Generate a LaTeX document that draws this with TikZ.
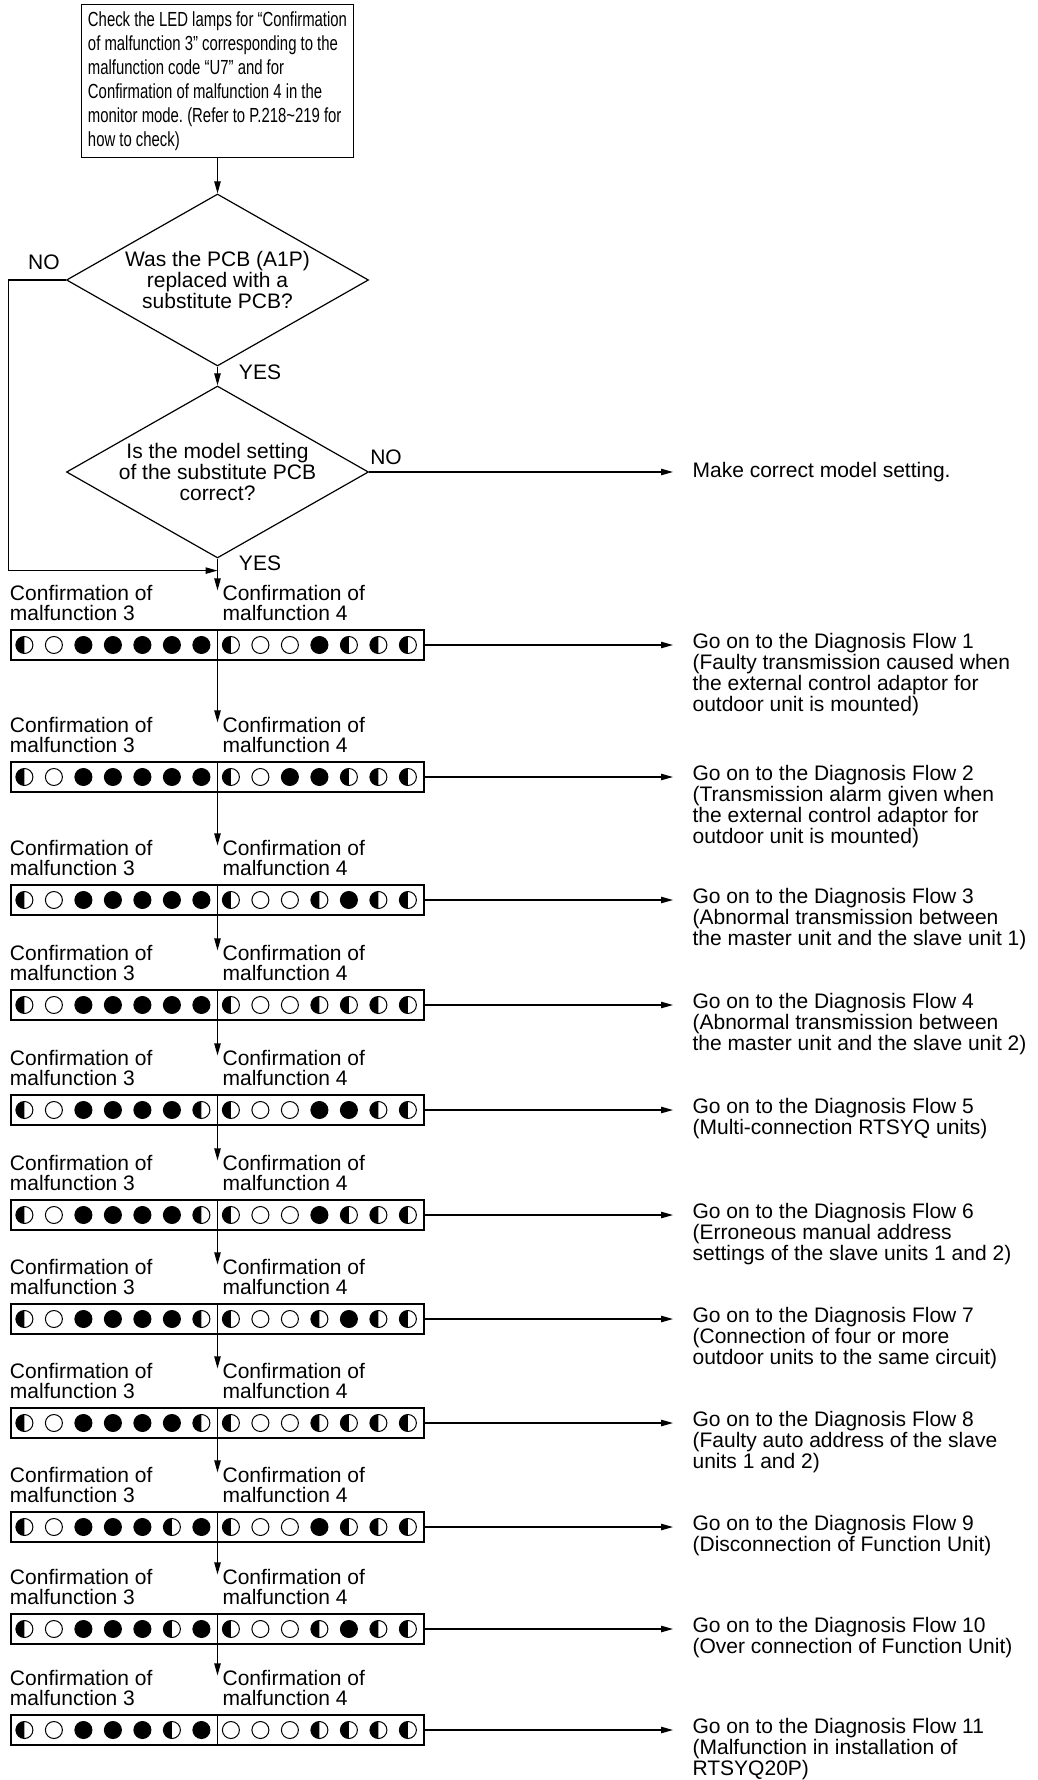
\documentclass[tikz,border=0pt]{standalone}
\usepackage{fontspec}
\setmainfont{Liberation Sans}
\newfontfamily\narrowfont[FakeStretch=0.73]{Liberation Sans}
\usetikzlibrary{arrows.meta, positioning, calc, shapes.geometric}
\frenchspacing

\begin{document}
\begin{tikzpicture}[x=0.5pt, y=0.5pt, line width=0.6pt, >={Triangle[length=6pt, width=3.2pt]},
		font=\fontsize{10.5}{10}\selectfont]
		
		% Define block styles
		\tikzstyle{checkbox} = [rectangle, draw, align=left, inner xsep=3.25pt, minimum height=74pt, font=\narrowfont\fontsize{10.2}{12}\selectfont]
		\tikzstyle{decision} = [diamond, draw, aspect=1.75, minimum width=151pt, minimum height=86pt, inner sep=0pt, align=center, font=\fontsize{10.5}{10.4}\selectfont]
		\tikzstyle{ledbar} = [rectangle, draw, minimum width=206.5pt, minimum height=15pt, inner sep=0pt]
		\tikzstyle{lamp} = [line width=0.5pt]
		\tikzstyle{conf} = [anchor=west, align=left, inner sep=0pt]
		\tikzstyle{flow} = [anchor=north west, align=left, inner sep=0pt, yshift=6.15pt, font=\fontsize{10.5}{10.5}\selectfont]
		\tikzstyle{answer} = [inner sep=0pt]
		
		\useasboundingbox (0,0) rectangle (1037,-1780);
		
		% Nodes
		\node[checkbox] (check) at (217.5,-81) {Check the LED lamps for “Confirmation\\of malfunction 3” corresponding to the\\malfunction code “U7” and for\\Confirmation of malfunction 4 in the\\monitor mode. (Refer to P.218\textasciitilde219 for\\how to check)};
		\node[decision] (pcb) at (217.5,-280) {Was the PCB (A1P)\\replaced with a\\substitute PCB?};
		\node[decision] (model) at (217.5,-472) {Is the model setting\\of the substitute PCB\\correct?};
		\node[anchor=west, inner sep=0pt] (setting) at (692,-472) {Make correct model setting.};
		\coordinate (textx) at (692,0);
		
		% LED rows: h = blinking, o = off, f = on
		\foreach \y/\pattern [count=\i] in {
			645/{h,o,f,f,f,f,f,h,o,o,f,h,h,h},
			777/{h,o,f,f,f,f,f,h,o,f,f,h,h,h},
			900/{h,o,f,f,f,f,f,h,o,o,h,f,h,h},
			1005/{h,o,f,f,f,f,f,h,o,o,h,h,h,h},
			1110/{h,o,f,f,f,f,h,h,o,o,f,f,h,h},
			1215/{h,o,f,f,f,f,h,h,o,o,f,h,h,h},
			1319/{h,o,f,f,f,f,h,h,o,o,h,f,h,h},
			1423/{h,o,f,f,f,f,h,h,o,o,h,h,h,h},
			1527/{h,o,f,f,f,h,f,h,o,o,f,h,h,h},
			1629/{h,o,f,f,f,h,f,h,o,o,h,f,h,h},
			1730/{h,o,f,f,f,h,f,o,o,o,h,h,h,h}}{
			\node[ledbar] (bar\i) at (217.5,-\y) {};
			\draw (bar\i.north) -- (bar\i.south);
			\node[conf] (mal3-\i) at ($(bar\i.west)+(-1,42)$) {Confirmation of\\malfunction 3};
			\node[conf] (mal4-\i) at ($(bar\i.center)+(4.5,42)$) {Confirmation of\\malfunction 4};
			\coordinate (in\i) at ($(bar\i.north)+(0,39)$);
			\foreach \s [count=\k from 0] in \pattern {
				\coordinate (bulb) at ($(bar\i.west)+(14+29.5*\k,0)$);
				\draw[lamp] (bulb) circle (4.25pt);
				\if\s f\fill (bulb) circle (4.25pt);\fi
				\if\s h\fill (bulb) ++(0,4.25pt) arc[start angle=90, end angle=270, radius=4.25pt] -- cycle;\fi
			}
		}
		
		% Diagnosis flows
		\node[flow] (flow1) at (bar1.east -| textx) {Go on to the Diagnosis Flow 1\\(Faulty transmission caused when\\the external control adaptor for\\outdoor unit is mounted)};
		\node[flow] (flow2) at (bar2.east -| textx) {Go on to the Diagnosis Flow 2\\(Transmission alarm given when\\the external control adaptor for\\outdoor unit is mounted)};
		\node[flow] (flow3) at (bar3.east -| textx) {Go on to the Diagnosis Flow 3\\(Abnormal transmission between\\the master unit and the slave unit 1)};
		\node[flow] (flow4) at (bar4.east -| textx) {Go on to the Diagnosis Flow 4\\(Abnormal transmission between\\the master unit and the slave unit 2)};
		\node[flow] (flow5) at (bar5.east -| textx) {Go on to the Diagnosis Flow 5\\(Multi-connection RTSYQ units)};
		\node[flow] (flow6) at (bar6.east -| textx) {Go on to the Diagnosis Flow 6\\(Erroneous manual address\\settings of the slave units 1 and 2)};
		\node[flow] (flow7) at (bar7.east -| textx) {Go on to the Diagnosis Flow 7\\(Connection of four or more\\outdoor units to the same circuit)};
		\node[flow] (flow8) at (bar8.east -| textx) {Go on to the Diagnosis Flow 8\\(Faulty auto address of the slave\\units 1 and 2)};
		\node[flow] (flow9) at (bar9.east -| textx) {Go on to the Diagnosis Flow 9\\(Disconnection of Function Unit)};
		\node[flow] (flow10) at (bar10.east -| textx) {Go on to the Diagnosis Flow 10\\(Over connection of Function Unit)};
		\node[flow] (flow11) at (bar11.east -| textx) {Go on to the Diagnosis Flow 11\\(Malfunction in installation of\\RTSYQ20P)};
		
		% Arrows
		\draw[->] (check) -- (pcb);
		\draw[->] (pcb) -- (model);
		\draw[->] (model) -- (in1);
		\coordinate (merge) at ($(model.south)+(0,-12)$);
		\draw[->] (pcb.west) -- ++(-57.5,0) |- (merge);
		\draw[->, shorten >=9.5pt] (model.east) -- (setting.west);
		\foreach \i [evaluate=\i as \j using int(\i+1)] in {1,...,10}
			\draw[->] (bar\i.south) -- (in\j);
		\foreach \i in {1,...,11}
			\draw[->, shorten >=9.5pt] (bar\i.east) -- (bar\i.east -| textx);
		
		% Labels
		\node[answer] (no1) at (44,-262) {NO};
		\node[answer] (yes1) at (260,-372) {YES};
		\node[answer] (no2) at (386,-457) {NO};
		\node[answer] (yes2) at (260,-563) {YES};
		
	\end{tikzpicture}
\end{document}
